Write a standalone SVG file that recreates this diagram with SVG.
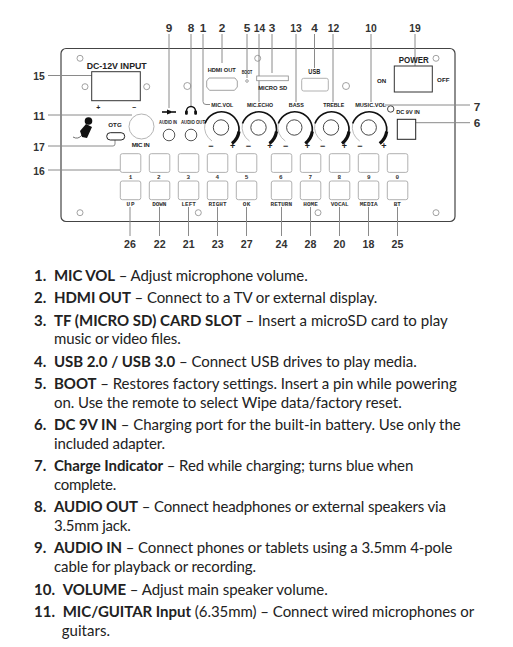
<svg xmlns="http://www.w3.org/2000/svg" width="513" height="647" viewBox="0 0 513 647">
<style>
.n{font:700 11.8px "Liberation Sans",Arial,sans-serif;fill:#333;text-anchor:middle}
.s{font:700 6px "Liberation Mono",monospace;fill:#333;text-anchor:middle}
.l{font:700 6.2px "Liberation Sans",Arial,sans-serif;fill:#222;text-anchor:middle}
.m{font:700 9px "Liberation Sans",Arial,sans-serif;fill:#222;text-anchor:middle}
.c{fill:none;stroke:#8a8a8a;stroke-width:1}
.h{fill:#fff;stroke:#8a8a8a;stroke-width:.8}
.j{fill:#fff;stroke:#444;stroke-width:.9}
.b{fill:#fff;stroke:#a8a8a8;stroke-width:.9}
.t{font-family:Lato,"Open Sans",sans-serif;font-size:15px;fill:#222}
.tb{font-weight:700}
.pm{font:700 9px "Liberation Sans",Arial,sans-serif;fill:#222;text-anchor:middle}
</style>
<defs>
<g id="knob">
<circle r="7.7" fill="#fff" stroke="#333" stroke-width=".9"/>
<path d="M-9 13.5A16.5 16.5 0 0 1 -16 -4" fill="none" stroke="#aaa" stroke-width=".8"/>
<path d="M-16 -4A17.5 17.5 0 0 1 17.5 6" fill="none" stroke="#111" stroke-width="1.7"/>
<path d="M18 4A18.5 18.5 0 0 1 11 16" fill="none" stroke="#111" stroke-width="3.2"/>
</g>
<rect id="btn" width="20.5" height="18.7" rx="2" class="b"/>
</defs>
<g id="board"><rect x="61" y="48.5" width="394" height="173" rx="5" fill="#fff" stroke="#444" stroke-width="1.2"/>
<circle class="h" cx="80" cy="58.3" r="3"/><circle class="h" cx="257.7" cy="58.3" r="3"/><circle class="h" cx="436" cy="58.3" r="3"/><circle class="h" cx="80" cy="212.7" r="3"/><circle class="h" cx="198.3" cy="212.7" r="3"/><circle class="h" cx="318" cy="212.7" r="3"/><circle class="h" cx="436" cy="212.7" r="3"/><circle class="h" cx="187.3" cy="86" r="3.5"/><circle class="h" cx="346" cy="86" r="3.5"/>
</g>
<g id="connectors" class="c">
<path d="M169 34V108M191 34V107M203 34V101.5Q203 104.5 206 104.5H210M222 34V63M247 34V78M259 34V102M272 34V73M296 34V102M314.5 34V68M333 34V102M371 34V102M415 34V67M48 75.5H92M48 115H132M48 146H113Q115 146 115 144V140M48 170H120M385 105H470M416 122.7H470M130 207V236M159.5 207V236M188.5 207V236M217.5 207V236M246.5 207V236M281.5 207V236M310.5 207V236M339.5 207V236M368.5 207V236M397.5 207V236"/>
</g>
<g id="callouts">
<text class="n" x="169" y="32">9</text><text class="n" x="191" y="32">8</text><text class="n" x="203" y="32">1</text><text class="n" x="222" y="32">2</text><text class="n" x="247" y="32">5</text><text class="n" x="259.5" y="32" textLength="11.5" lengthAdjust="spacingAndGlyphs">14</text><text class="n" x="272" y="32">3</text><text class="n" x="296" y="32" textLength="11.5" lengthAdjust="spacingAndGlyphs">13</text><text class="n" x="314.5" y="32">4</text><text class="n" x="333.5" y="32" textLength="11.5" lengthAdjust="spacingAndGlyphs">12</text><text class="n" x="371" y="32" textLength="11.5" lengthAdjust="spacingAndGlyphs">10</text><text class="n" x="415" y="32" textLength="11.5" lengthAdjust="spacingAndGlyphs">19</text>
<text class="n" x="39" y="80" textLength="11.5" lengthAdjust="spacingAndGlyphs">15</text><text class="n" x="39" y="119.5" textLength="11.5" lengthAdjust="spacingAndGlyphs">11</text><text class="n" x="39" y="150.5" textLength="11.5" lengthAdjust="spacingAndGlyphs">17</text><text class="n" x="39" y="174.5" textLength="11.5" lengthAdjust="spacingAndGlyphs">16</text><text class="n" x="477" y="110.5">7</text><text class="n" x="477" y="127">6</text>
<text class="n" x="130" y="247.5" textLength="11.8" lengthAdjust="spacingAndGlyphs">26</text><text class="n" x="159.7" y="247.5" textLength="11.8" lengthAdjust="spacingAndGlyphs">22</text><text class="n" x="188.7" y="247.5" textLength="11.8" lengthAdjust="spacingAndGlyphs">21</text><text class="n" x="217.7" y="247.5" textLength="11.8" lengthAdjust="spacingAndGlyphs">23</text><text class="n" x="246.7" y="247.5" textLength="11.8" lengthAdjust="spacingAndGlyphs">27</text><text class="n" x="281.5" y="247.5" textLength="11.8" lengthAdjust="spacingAndGlyphs">24</text><text class="n" x="310.5" y="247.5" textLength="11.8" lengthAdjust="spacingAndGlyphs">28</text><text class="n" x="339.5" y="247.5" textLength="11.8" lengthAdjust="spacingAndGlyphs">20</text><text class="n" x="368.5" y="247.5" textLength="11.8" lengthAdjust="spacingAndGlyphs">18</text><text class="n" x="397.5" y="247.5" textLength="11.8" lengthAdjust="spacingAndGlyphs">25</text>
</g>
<g id="dc12v"><text class="m" x="116.7" y="68.7" textLength="60" lengthAdjust="spacingAndGlyphs">DC-12V INPUT</text><rect x="91.7" y="71.7" width="48.6" height="29" fill="#fff" stroke="#333" stroke-width="1"/><circle class="h" cx="85" cy="86.7" r="3"/><circle class="h" cx="146.7" cy="86.7" r="3"/><text class="pm" x="98.3" y="109.5" style="font-size:7px">+</text><text class="pm" x="134" y="109.5" style="font-size:7px">−</text></g>
<g id="hdmi"><text class="l" x="221.7" y="71.6" textLength="28" lengthAdjust="spacingAndGlyphs">HDMI OUT</text><path class="h" d="M209 78H235L237.3 81V87L234.5 90.3H209.5L206.7 87V81Z"/></g>
<g id="boot"><text class="l" x="247" y="74" style="font-size:5px" textLength="10.5" lengthAdjust="spacingAndGlyphs">BOOT</text><circle class="h" cx="247" cy="81" r="1.3"/></g>
<g id="microsd"><rect class="h" x="256.7" y="76" width="31.6" height="4.7"/><text class="l" x="272.7" y="90.2" textLength="29" lengthAdjust="spacingAndGlyphs">MICRO SD</text></g>
<g id="usb"><text class="l" x="314.3" y="74.2" style="font-size:6.8px" textLength="12" lengthAdjust="spacingAndGlyphs">USB</text><rect class="b" x="301.7" y="78.3" width="26.6" height="12.7" rx="2"/></g>
<g id="power"><text class="m" x="413.7" y="62.5" textLength="30" lengthAdjust="spacingAndGlyphs">POWER</text><rect x="394.3" y="66" width="38" height="26" fill="#fff" stroke="#333" stroke-width="1"/><text class="l" x="381.7" y="82.7">ON</text><text class="l" x="443.3" y="82.2">OFF</text></g>
<g id="charge"><circle cx="390.7" cy="109" r="3.2" fill="#fff" stroke="#333" stroke-width=".9"/></g>
<g id="dc9v"><text class="l" x="408" y="114" style="font-size:5.6px">DC 9V IN</text><rect x="397.3" y="119.3" width="18.4" height="20" fill="#fff" stroke="#222" stroke-width="1"/></g>
<g id="mic-icon"><path d="M73 137Q78 140 82 135" fill="none" stroke="#333" stroke-width=".7"/><path d="M86 124L80 131L82 137L87 138L92 127Z" fill="#111"/><circle cx="88.5" cy="121" r="3.8" fill="#111"/></g>
<g id="otg"><text class="l" x="115" y="126.5">OTG</text><rect x="106.7" y="132.7" width="18" height="7.3" rx="3.6" fill="#fff" stroke="#222" stroke-width="1"/></g>
<g id="micin"><circle cx="141.5" cy="126.5" r="12.5" fill="#fff" stroke="#aaa" stroke-width=".9"/><text class="l" x="140.7" y="147.2" textLength="18">MIC IN</text></g>
<g id="audioin"><path d="M162 112H176" stroke="#111" stroke-width="1.6"/><path d="M167 109.5L171 111V113L167 114.5Z" fill="#111"/><text class="l" x="168" y="123.7" style="font-size:5.4px" textLength="18" lengthAdjust="spacingAndGlyphs">AUDIO IN</text><circle class="j" cx="169" cy="135" r="5.8"/></g>
<g id="audioout"><path d="M186.5 113V111A4.5 4.5 0 0 1 195.5 111V113" fill="none" stroke="#111" stroke-width="1.4"/><rect x="185" y="110.5" width="2.8" height="4.2" rx="1" fill="#111"/><rect x="194.2" y="110.5" width="2.8" height="4.2" rx="1" fill="#111"/><text class="l" x="193" y="123.7" style="font-size:5.4px" textLength="24" lengthAdjust="spacingAndGlyphs">AUDIO OUT</text><circle class="j" cx="191" cy="135" r="5.8"/></g>
<g id="knobs">
<use href="#knob" x="221" y="127.5"/><use href="#knob" x="258.5" y="127.5"/><use href="#knob" x="294.3" y="127.5"/><use href="#knob" x="331" y="127.5"/><use href="#knob" x="368.7" y="127.5"/>
<text class="l" x="222.3" y="107" textLength="22" lengthAdjust="spacingAndGlyphs">MIC.VOL</text><text class="l" x="260" y="107" textLength="26" lengthAdjust="spacingAndGlyphs">MIC.ECHO</text><text class="l" x="296.3" y="107" textLength="15" lengthAdjust="spacingAndGlyphs">BASS</text><text class="l" x="333.7" y="107" textLength="21" lengthAdjust="spacingAndGlyphs">TREBLE</text><text class="l" x="370.7" y="107" textLength="31" lengthAdjust="spacingAndGlyphs">MUSIC.VOL</text>
<g class="pm"><text class="pm" x="211" y="149">−</text><text class="pm" x="232.7" y="149">+</text><text class="pm" x="248.3" y="149">−</text><text class="pm" x="270" y="149">+</text><text class="pm" x="285.7" y="149">−</text><text class="pm" x="307.3" y="149">+</text><text class="pm" x="322.7" y="149">−</text><text class="pm" x="344.3" y="149">+</text><text class="pm" x="360" y="149">−</text><text class="pm" x="384" y="149">+</text></g>
</g>
<g id="buttons">
<use href="#btn" x="120.3" y="153.7"/><use href="#btn" x="149.3" y="153.7"/><use href="#btn" x="178.3" y="153.7"/><use href="#btn" x="207.3" y="153.7"/><use href="#btn" x="236.3" y="153.7"/><use href="#btn" x="271.3" y="153.7"/><use href="#btn" x="300.3" y="153.7"/><use href="#btn" x="329.3" y="153.7"/><use href="#btn" x="358.3" y="153.7"/><use href="#btn" x="387.3" y="153.7"/>
<use href="#btn" x="120.3" y="181"/><use href="#btn" x="149.3" y="181"/><use href="#btn" x="178.3" y="181"/><use href="#btn" x="207.3" y="181"/><use href="#btn" x="236.3" y="181"/><use href="#btn" x="271.3" y="181"/><use href="#btn" x="300.3" y="181"/><use href="#btn" x="329.3" y="181"/><use href="#btn" x="358.3" y="181"/><use href="#btn" x="387.3" y="181"/>
<text class="s" x="130.5" y="179">1</text><text class="s" x="158.7" y="179">2</text><text class="s" x="188.3" y="179">3</text><text class="s" x="217.3" y="179">4</text><text class="s" x="246.5" y="179">5</text><text class="s" x="280.7" y="179">6</text><text class="s" x="310.3" y="179">7</text><text class="s" x="339.3" y="179">8</text><text class="s" x="368.7" y="179">9</text><text class="s" x="397.3" y="179">0</text>
<text class="s" x="130.5" y="205.5" textLength="8">UP</text><text class="s" x="159.3" y="205.5" textLength="14">DOWN</text><text class="s" x="188.7" y="205.5" textLength="14.5">LEFT</text><text class="s" x="217.5" y="205.5" textLength="18">RIGHT</text><text class="s" x="246.5" y="205.5" textLength="7.5">OK</text><text class="s" x="281.3" y="205.5" textLength="21.5">RETURN</text><text class="s" x="310.5" y="205.5" textLength="14.5">HOME</text><text class="s" x="339.7" y="205.5" textLength="18">VOCAL</text><text class="s" x="368.7" y="205.5" textLength="18">MEDIA</text><text class="s" x="397.3" y="205.5" textLength="7">BT</text>
</g>
<g id="legend" class="t">
<text class="tb" x="34" y="281">1.</text><text x="54" y="281" textLength="253.7"><tspan class="tb">MIC VOL</tspan> – Adjust microphone volume.</text>
<text class="tb" x="34" y="303.3">2.</text><text x="54" y="303.3" textLength="323.3"><tspan class="tb">HDMI OUT</tspan> – Connect to a TV or external display.</text>
<text class="tb" x="34" y="326">3.</text><text x="54" y="326" textLength="393.7"><tspan class="tb">TF (MICRO SD) CARD SLOT</tspan> – Insert a microSD card to play</text>
<text x="54" y="344" textLength="126.7">music or video files.</text>
<text class="tb" x="34" y="366.7">4.</text><text x="54" y="366.7" textLength="362.7"><tspan class="tb">USB 2.0 / USB 3.0</tspan> – Connect USB drives to play media.</text>
<text class="tb" x="34" y="389">5.</text><text x="54" y="389" textLength="402.7"><tspan class="tb">BOOT</tspan> – Restores factory settings. Insert a pin while powering</text>
<text x="54" y="408" textLength="347.7">on. Use the remote to select Wipe data/factory reset.</text>
<text class="tb" x="34" y="430">6.</text><text x="54" y="430" textLength="406.7"><tspan class="tb">DC 9V IN</tspan> – Charging port for the built-in battery. Use only the</text>
<text x="54" y="448.7" textLength="111">included adapter.</text>
<text class="tb" x="34" y="471">7.</text><text x="54" y="471" textLength="359.3"><tspan class="tb">Charge Indicator</tspan> – Red while charging; turns blue when</text>
<text x="54" y="490" textLength="62.3">complete.</text>
<text class="tb" x="34" y="512">8.</text><text x="54" y="512" textLength="392"><tspan class="tb">AUDIO OUT</tspan> – Connect headphones or external speakers via</text>
<text x="54" y="531" textLength="76.7">3.5mm jack.</text>
<text class="tb" x="34" y="553">9.</text><text x="54" y="553" textLength="398.3"><tspan class="tb">AUDIO IN</tspan> – Connect phones or tablets using a 3.5mm 4-pole</text>
<text x="54" y="572" textLength="202">cable for playback or recording.</text>
<text class="tb" x="34" y="594.7">10.</text><text x="62.7" y="594.7" textLength="265"><tspan class="tb">VOLUME</tspan> – Adjust main speaker volume.</text>
<text class="tb" x="34" y="616.7">11.</text><text x="62.7" y="616.7" textLength="411.6"><tspan class="tb">MIC/GUITAR Input</tspan> (6.35mm) – Connect wired microphones or</text>
<text x="61.7" y="635.7" textLength="48.3">guitars.</text>
</g>
</svg>
